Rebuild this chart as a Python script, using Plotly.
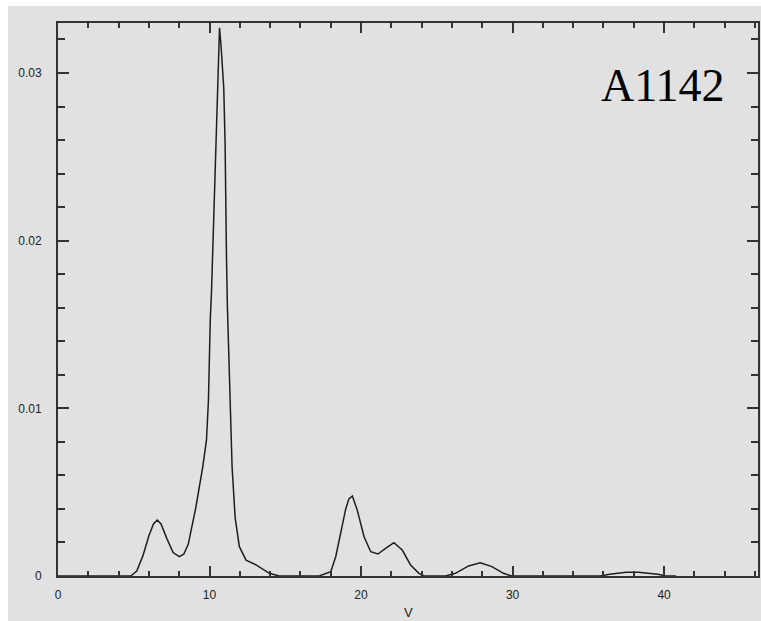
import plotly.graph_objects as go

# Velocity distribution sampled along V
v = [0, 4.8, 5.2, 5.6, 6.0, 6.3, 6.55, 6.8, 7.2, 7.6, 8.0, 8.3, 8.6, 9.1, 9.55, 9.8,
     9.93, 10.0, 10.05, 10.13, 10.2, 10.28, 10.37, 10.44, 10.5, 10.57, 10.66,
     10.77, 10.88, 10.94, 11.03, 11.06, 11.12, 11.18, 11.27, 11.32, 11.49, 11.69,
     11.97, 12.41, 13.07, 13.95, 14.6,
     17.24, 18.0, 18.33, 18.66, 18.99, 19.2, 19.43, 19.76, 20.2, 20.64, 21.12,
     21.62, 22.17, 22.72, 23.27, 23.82, 24.14,
     25.57, 26.23, 27.1, 27.87, 28.64, 29.4, 29.95,
     35.8, 36.4, 37.5, 38.3, 38.9, 39.6, 40.1, 40.8]
density = [0, 0, 0.0003, 0.0012, 0.0024, 0.0031, 0.00334, 0.0031, 0.0022, 0.0014, 0.00115,
           0.0013, 0.0019, 0.0041, 0.0065, 0.0081,
           0.0105, 0.0136, 0.0153, 0.0169, 0.019, 0.0215, 0.0238, 0.0264, 0.0286, 0.0308, 0.0327,
           0.0315, 0.0302, 0.0291, 0.0257, 0.0223, 0.019, 0.0161, 0.0133, 0.0105, 0.0065, 0.0035,
           0.00175, 0.00095, 0.00066, 0.00016, 0,
           0, 0.00026, 0.00115, 0.00255, 0.004, 0.0046, 0.00477, 0.0039, 0.00234, 0.00145, 0.00131,
           0.00165, 0.00199, 0.00155, 0.00066, 0.00016, 0,
           0, 0.00016, 0.0006, 0.00079, 0.00056, 0.00016, 0,
           0, 0.0001, 0.00022, 0.00022, 0.00016, 0.0001, 0, 0]

x_ticks = [0, 10, 20, 30, 40]
x_labels = ["0", "10", "20", "30", "40"]
y_ticks = [0, 0.01, 0.02, 0.03]
y_labels = ["0", "0.01", "0.02", "0.03"]
label = "A1142"

BG = "#e1e1e1"
W, H = 761, 621
ML, MR, MT, MB = 58, 1, 23, 45
PW, PH = W - ML - MR, H - MT - MB


def px_x(p):
    return (p - ML) / PW


def px_y(p):
    return (H - MB - p) / PH


fig = go.Figure()
fig.add_trace(go.Scatter(x=v, y=density, mode="lines",
                         line=dict(color="#1e1e1e", width=1.5),
                         hoverinfo="skip", showlegend=False))

axis_common = dict(
    showgrid=False, zeroline=False, showline=True, linecolor="#333333", linewidth=2,
    mirror="ticks", ticks="inside", tickcolor="#333333", tickwidth=1.5,
    tickfont=dict(family="Liberation Sans, Arial, sans-serif", size=12, color="#222222"),
)

fig.update_xaxes(range=[0, 46.2], tickvals=x_ticks, ticktext=x_labels, ticklen=10,
                 ticklabelstandoff=7,
                 minor=dict(dtick=2, tick0=0, ticks="inside", ticklen=5, tickcolor="#333333",
                            tickwidth=1.5, showgrid=False),
                 **axis_common)
fig.update_yaxes(range=[0, 0.03298], tickvals=y_ticks, ticktext=y_labels, ticklen=11,
                 ticklabelstandoff=12,
                 minor=dict(dtick=0.002, tick0=0, ticks="inside", ticklen=7, tickcolor="#333333",
                            tickwidth=1.5, showgrid=False),
                 **axis_common)

fig.add_annotation(x=px_x(665), y=px_y(85), xref="paper", yref="paper",
                   text=label, showarrow=False, xanchor="center", yanchor="middle",
                   font=dict(family="Liberation Serif, Times New Roman, serif", size=46,
                             color="#000000"))
fig.add_annotation(x=0.5, y=px_y(612), xref="paper", yref="paper",
                   text="V", showarrow=False, xanchor="center", yanchor="middle",
                   font=dict(family="Liberation Sans, Arial, sans-serif", size=13,
                             color="#222222"))

# white border strips along the top and left edges of the canvas
fig.add_shape(type="rect", xref="paper", yref="paper", x0=px_x(-5), x1=px_x(8),
              y0=px_y(H + 5), y1=px_y(-5), fillcolor="white", line_width=0)
fig.add_shape(type="rect", xref="paper", yref="paper", x0=px_x(-5), x1=px_x(W + 5),
              y0=px_y(6), y1=px_y(-5), fillcolor="white", line_width=0)

fig.update_layout(width=W, height=H, margin=dict(l=ML, r=MR, t=MT, b=MB, pad=0),
                  paper_bgcolor=BG, plot_bgcolor=BG, showlegend=False)

fig.write_html("out.html")
